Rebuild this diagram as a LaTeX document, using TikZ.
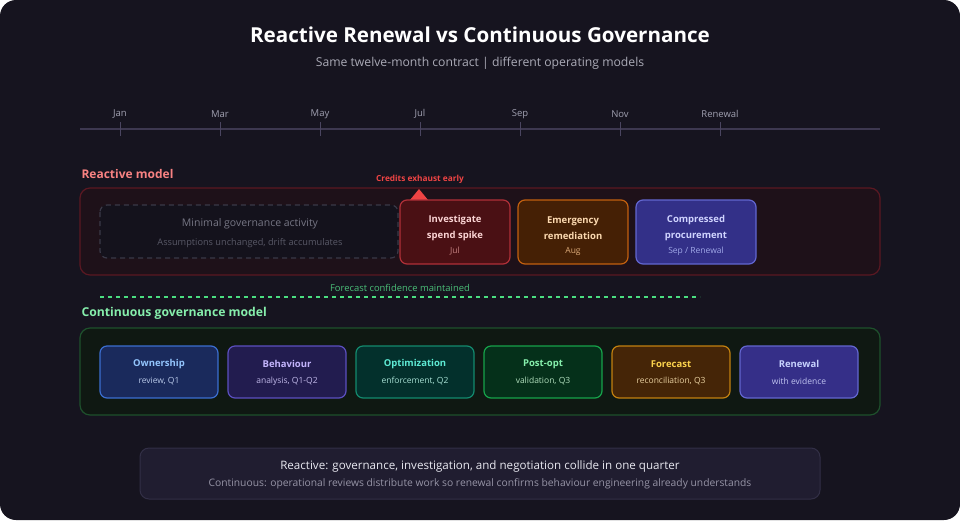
\documentclass[tikz,border=0pt]{standalone}
\usepackage{fontspec}
\setmainfont{Open Sans}
\definecolor{bgc}{HTML}{16141F}
\definecolor{tickc}{HTML}{4A4560}
\definecolor{linec}{HTML}{3D3850}
\definecolor{monc}{HTML}{A0A0B0}
\definecolor{subt}{HTML}{AAAAB6}
\definecolor{redl}{HTML}{F88282}
\definecolor{redt}{HTML}{EF4444}
\definecolor{rcd}{HTML}{5A1822}
\definecolor{rcf}{HTML}{1E1119}
\definecolor{dashd}{HTML}{3A3948}
\definecolor{dashf}{HTML}{14121C}
\definecolor{mint}{HTML}{767684}
\definecolor{asst}{HTML}{585866}
\definecolor{invd}{HTML}{B03038}
\definecolor{invf}{HTML}{4A1014}
\definecolor{invt}{HTML}{FCD5D5}
\definecolor{invs}{HTML}{C48080}
\definecolor{emgd}{HTML}{C2600F}
\definecolor{emgf}{HTML}{452005}
\definecolor{emgt}{HTML}{FCD9B0}
\definecolor{emgs}{HTML}{DCAA78}
\definecolor{cmpd}{HTML}{6266D0}
\definecolor{cmpf}{HTML}{333088}
\definecolor{cmpt}{HTML}{D0D4FF}
\definecolor{cmps}{HTML}{A0A8E8}
\definecolor{fct}{HTML}{4ABE78}
\definecolor{fcl}{HTML}{4ADE80}
\definecolor{grl}{HTML}{86EFAC}
\definecolor{gcd}{HTML}{1E502C}
\definecolor{gcf}{HTML}{0F1812}
\definecolor{ntd}{HTML}{322F46}
\definecolor{ntf}{HTML}{201D30}
\definecolor{nt1}{HTML}{E8E8F0}
\definecolor{nt2}{HTML}{9694A6}
\begin{document}
\begin{tikzpicture}[x=1pt,y=-1pt,
  fs/.style={font=\fontsize{#1}{#1}\selectfont},
  fsb/.style={font=\fontsize{#1}{16}\selectfont\bfseries},
  box/.style={rounded corners=7pt, line width=1.2pt},
  month/.style={text=monc, fs=9.5},
  ttl/.style={fsb=9.5, text=#1, align=center},
  sub/.style={fs=8.5, text=#1},
]
\useasboundingbox (0,0) rectangle (960,520);
\fill[white] (0,0) rectangle (960,520);
\fill[bgc, rounded corners=16pt] (0,0) rectangle (960,520);

% title
\node[fsb=20.6, text=white] (title) at (480,35) {Reactive Renewal vs Continuous Governance};
\node[fs=12.2, text=subt] (subtitle) at (480,63) {Same twelve-month contract | different operating models};

% timeline
\draw[linec, line width=2pt] (80,129) coordinate (tl0) -- (880,129) coordinate (tl1);
\foreach \x/\m [count=\i] in {120/Jan,220/Mar,320/May,420/Jul,520/Sep,620/Nov,720/Renewal}{
  \draw[tickc, line width=1pt] (\x,122) -- (\x,136);
  \node[month] (m\i) at (\x,114) {\m};
}

% reactive
\node[fsb=12, text=redl, anchor=west] (rlabel) at (78,174) {Reactive model};
\draw[box, rounded corners=10pt, draw=rcd, fill=rcf] (80,188) rectangle (880,275);
\node[fsb=8.3, text=redt] (credits) at (420,179) {Credits exhaust early};
\fill[redt] (410,200) -- (419,189) -- (428,200) -- cycle;

\draw[rounded corners=7pt, dash pattern=on 5pt off 4pt, line width=1.2pt, draw=dashd, fill=dashf] (100,205) rectangle (398,258);
\node[fs=10.5, text=mint] (minimal) at (250,224) {Minimal governance activity};
\node[fs=9.2, text=asst] (assump) at (250,243) {Assumptions unchanged, drift accumulates};

\draw[box, draw=invd, fill=invf] (400,200) rectangle (510,264);
\node[ttl=invt] (inv) at (455,228) {Investigate\\spend spike};
\node[sub=invs] (invsub) at (455,251) {Jul};

\draw[box, draw=emgd, fill=emgf] (518,200) rectangle (628,264);
\node[ttl=emgt] (emg) at (573,228) {Emergency\\remediation};
\node[sub=emgs] (emgsub) at (573,251) {Aug};

\draw[box, draw=cmpd, fill=cmpf] (636,200) rectangle (756,264);
\node[ttl=cmpt] (cmp) at (696,228) {Compressed\\procurement};
\node[sub=cmps] (cmpsub) at (696,251) {Sep / Renewal};

% forecast confidence
\node[fs=9.4, text=fct] (fcm) at (400,288) {Forecast confidence maintained};
\draw[fcl, line width=2pt, dash pattern=on 4pt off 4pt] (100,297) coordinate (fc0) -- (700,297) coordinate (fc1);

% continuous
\node[fsb=12.2, text=grl, anchor=west] (clabel) at (78,313) {Continuous governance model};
\draw[box, rounded corners=10pt, draw=gcd, fill=gcf] (80,328) rectangle (880,415);

\foreach \x/\fillc/\drawc/\tc/\sc/\t/\s [count=\i] in {
  100/1A2A5C/3B6ED0/93C5FD/B8C8E8/Ownership/{review, Q1},
  228/221C4F/5B4FC0/C4B5FD/C0B8E8/Behaviour/{analysis, Q1-Q2},
  356/03302C/138A6E/5EEAD4/A8E0D4/Optimization/{enforcement, Q2},
  484/05301A/16A34A/86EFAC/B0DDBC/Post-opt/{validation, Q3},
  612/452507/C2800F/FCD34D/E8D0A0/Forecast/{reconciliation, Q3},
  740/352F88/6366D0/C7D2FE/C0C4F0/Renewal/{with evidence}}{
  \definecolor{cf}{HTML}{\fillc}\definecolor{cd}{HTML}{\drawc}
  \definecolor{ct}{HTML}{\tc}\definecolor{cs}{HTML}{\sc}
  \draw[box, draw=cd, fill=cf] (\x,346) rectangle ++(118,52);
  \node[fsb=9.5, text=ct] (c\i) at (\x+59,364) {\t};
  \node[sub=cs] (cs\i) at (\x+59,381) {\s};
}

% bottom note
\draw[rounded corners=9pt, line width=1pt, draw=ntd, fill=ntf] (140,448) rectangle (820,499);
\node[fs=11.6, text=nt1] (note1) at (480,466) {Reactive: governance, investigation, and negotiation collide in one quarter};
\node[fs=10.3, text=nt2] (note2) at (480,484) {Continuous: operational reviews distribute work so renewal confirms behaviour engineering already understands};
\end{tikzpicture}
\end{document}
